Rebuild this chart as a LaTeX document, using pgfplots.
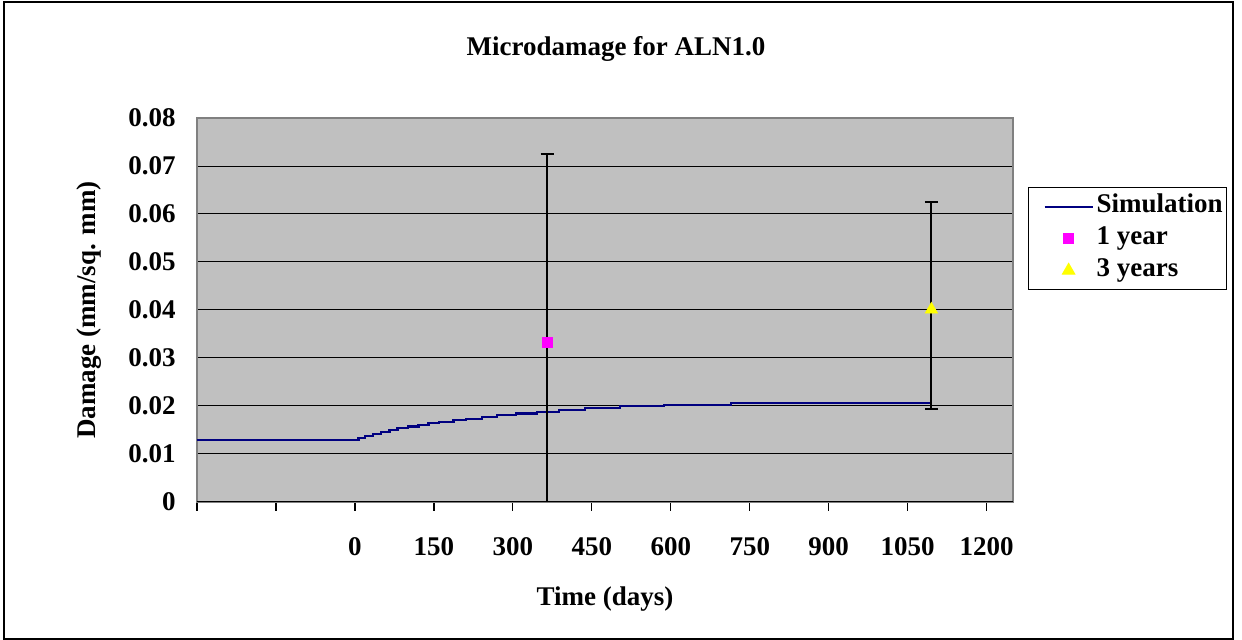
\documentclass[border=0pt]{standalone}
\usepackage{fontspec}
\setmainfont{Liberation Serif}
\usepackage{pgfplots}
\pgfplotsset{compat=1.18}
\definecolor{plotbg}{RGB}{192,192,192}
\definecolor{simline}{RGB}{0,0,128}
\definecolor{framegray}{RGB}{128,128,128}
\definecolor{mag}{RGB}{255,0,255}
\definecolor{yel}{RGB}{255,255,0}
\newcommand{\cf}{\bfseries\fontsize{13.5}{15.5}\selectfont}
\begin{document}
\begin{tikzpicture}
\useasboundingbox (0,0) rectangle (621pt,320pt);
\draw[line width=1pt,black] (2pt,0.5pt) rectangle (616.5pt,319pt);
\begin{axis}[
  at={(98.5pt,69pt)}, anchor=south west,
  scale only axis, width=408pt, height=192pt,
  xmin=-300, xmax=1250, ymin=0, ymax=0.08,
  axis background/.style={fill=plotbg},
  axis line style={draw=framegray, line width=0.6pt},
  xtick={-300,-150,0,150,300,450,600,750,900,1050,1200},
  xticklabels={,,0,150,300,450,600,750,900,1050,1200},
  ytick={0,0.01,0.02,0.03,0.04,0.05,0.06,0.07,0.08},
  yticklabels={0,0.01,0.02,0.03,0.04,0.05,0.06,0.07,0.08},
  scaled y ticks=false,
  tick align=outside,
  xtick pos=left,
  major tick length=4.5pt,
  x tick style={black, line width=0.6pt},
  y tick style={draw=none},
  ymajorgrids,
  grid style={black, line width=0.5pt},
  tick label style={font=\cf},
  xticklabel style={yshift=-9.7pt},
  yticklabel style={xshift=-2.7pt},
  title={Microdamage for ALN1.0},
  title style={font=\cf, at={(axis description cs:0.5135,1.1485)}, anchor=center},
  xlabel={Time (days)},
  xlabel style={font=\cf, at={(axis description cs:0.5,-0.2525)}, anchor=center},
  ylabel={Damage (mm/sq. mm)},
  ylabel style={font=\cf, at={(axis description cs:-0.1325,0.5)}, anchor=center, rotate=0},
  legend style={font=\cf, draw=black, line width=0.6pt, fill=white,
    at={(1.0184,0.8203)}, anchor=north west,
    inner xsep=1pt, inner ysep=1.5pt, column sep=0pt, row sep=0pt,
    nodes={inner xsep=1pt, inner ysep=2pt, text height=9pt, text depth=3pt}},
  legend cell align=left,
  legend image code/.code={\path[draw=none,fill=none] (0pt,0pt) -- (32pt,0pt);\draw[mark repeat=2,mark phase=2,#1] plot coordinates {(7pt,0pt) (19pt,0pt) (31pt,0pt)};},
]
\addplot[const plot, draw=simline, line width=1.1pt] coordinates {
  (-300,0.0129) (6.8,0.0134) (19.5,0.01383) (34.7,0.01417) (49.8,0.01453)
  (65.7,0.01496) (80.9,0.01538) (100.6,0.01574) (120.7,0.01609) (139.7,0.01638)
  (160,0.01666) (187.2,0.01702) (211.3,0.01736) (241,0.01772) (269.6,0.01809)
  (305.6,0.01843) (345.5,0.01879) (388,0.0192) (437,0.01964) (504,0.0200)
  (587,0.02028) (714,0.0207) (1096,0.0207)
};
\addlegendentry{Simulation}
\addplot[only marks, mark=square*, mark size=2.5pt, draw=mag, fill=mag,
  error bars/.cd, y dir=both, y explicit, error mark=|,
  error bar style={black, line width=1pt},
  error mark options={black, line width=1pt, mark size=3.25pt}]
  coordinates {(365,0.0332) +- (0,0.0393)};
\addlegendentry{1 year}
\addplot[only marks, mark=triangle*, mark size=3.5pt, draw=yel, fill=yel,
  error bars/.cd, y dir=both, y explicit, error mark=|,
  error bar style={black, line width=1pt},
  error mark options={black, line width=1pt, mark size=3.25pt}]
  coordinates {(1095,0.0401) += (0,0.0224) -= (0,0.0208)};
\addlegendentry{3 years}
\draw[black, line width=0.6pt] (rel axis cs:0,0) -- (rel axis cs:1,0);
\end{axis}
\end{tikzpicture}
\end{document}
